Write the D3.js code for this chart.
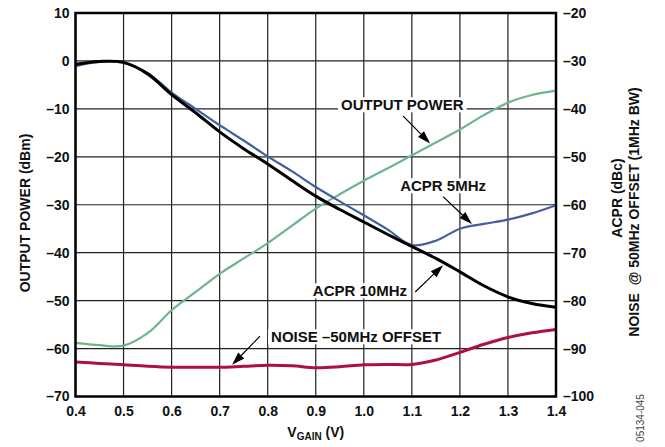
<!DOCTYPE html>
<html>
<head>
<meta charset="utf-8">
<script src="https://cdn.jsdelivr.net/npm/d3@7"></script>
<style>
  body { margin: 0; background: #fff; }
  svg { display: block; font-family: "Liberation Sans", Arial, sans-serif; }
</style>
</head>
<body>
<svg width="665" height="447"></svg>
<script>
// V_GAIN sample points (V)
var vGain = [0.40, 0.45, 0.50, 0.55, 0.60, 0.65, 0.70, 0.75, 0.80, 0.85, 0.90,
             0.95, 1.00, 1.05, 1.10, 1.15, 1.20, 1.25, 1.30, 1.35, 1.40];

// left axis, dBm
var outputPower = [-58.8, -59.3, -59.4, -56.8, -52.0, -48.2, -44.4, -41.2, -38.0, -34.4, -30.8,
                   -27.8, -25.0, -22.4, -19.7, -17.0, -14.3, -11.3, -8.7, -7.1, -6.2];

// right axis, dBc
var acpr5 = [-31.1, -30.2, -30.4, -32.5, -36.6, -40.0, -43.4, -46.6, -49.9, -53.0, -56.3,
             -59.3, -62.2, -65.2, -68.4, -67.5, -65.0, -64.0, -63.1, -61.8, -60.1];
var acpr10 = [-30.7, -30.1, -30.3, -32.7, -37.0, -40.8, -44.8, -48.3, -51.5, -54.9, -58.2,
              -61.0, -63.6, -66.2, -68.7, -71.2, -74.0, -76.9, -79.2, -80.6, -81.4];
var noise = [-92.8, -93.1, -93.4, -93.7, -93.9, -93.9, -93.9, -93.7, -93.5, -93.6, -94.0,
             -93.8, -93.4, -93.3, -93.3, -92.4, -90.8, -89.1, -87.7, -86.7, -86.0];

var xTicks = [0.4, 0.5, 0.6, 0.7, 0.8, 0.9, 1.0, 1.1, 1.2, 1.3, 1.4];
var leftTicks = [10, 0, -10, -20, -30, -40, -50, -60, -70];
var rightTicks = [-20, -30, -40, -50, -60, -70, -80, -90, -100];

// callouts in data units (V, dBm on left scale)
var callouts = [
    { text: "OUTPUT POWER", tx: 1.080, ty: -9.2, x0: 1.082, y0: -11.5, x1: 1.138, y1: -17.2 },
    { text: "ACPR 5MHz", tx: 1.165, ty: -26.1, x0: 1.165, y0: -28.3, x1: 1.225, y1: -34.0 },
    { text: "ACPR 10MHz", tx: 0.992, ty: -48.0, x0: 1.107, y0: -48.2, x1: 1.165, y1: -42.6 },
    { text: "NOISE \u201350MHz OFFSET", tx: 0.984, ty: -57.6, x0: 0.784, y0: -57.4, x1: 0.726, y1: -63.4 }
];

var svg = d3.select("svg");
var margin = { top: 13, left: 75.5 },
    width = 480.5,
    height = 383.5;

var g = svg.append("g")
    .attr("transform", `translate(${margin.left}, ${margin.top})`);

var x = d3.scaleLinear().domain([0.4, 1.4]).range([0, width]);
var yL = d3.scaleLinear().domain([-70, 10]).range([height, 0]);
var yR = d3.scaleLinear().domain([-100, -20]).range([height, 0]);

var dash = d => d < 0 ? "\u2013" + (-d) : "" + d;

// grid
g.append("g")
    .selectAll("line.v")
    .data(xTicks)
    .enter().append("line")
        .attr("x1", d => x(d)).attr("x2", d => x(d))
        .attr("y1", 0).attr("y2", height)
        .attr("stroke", "#222").attr("stroke-width", 1.2);

g.append("g")
    .selectAll("line.h")
    .data(leftTicks)
    .enter().append("line")
        .attr("x1", 0).attr("x2", width)
        .attr("y1", d => yL(d)).attr("y2", d => yL(d))
        .attr("stroke", "#222").attr("stroke-width", 1.2);

// axes labels
var xAxis = d3.axisBottom(x).tickValues(xTicks).tickSize(0).tickPadding(10).tickFormat(d3.format(".1f"));
var yAxisL = d3.axisLeft(yL).tickValues(leftTicks).tickSize(0).tickPadding(6).tickFormat(dash);
var yAxisR = d3.axisRight(yR).tickValues(rightTicks).tickSize(0).tickPadding(7).tickFormat(dash);

[[xAxis, `translate(0, ${height})`], [yAxisL, null], [yAxisR, `translate(${width}, 0)`]].forEach(a => {
    var ax = g.append("g").call(a[0]);
    if (a[1]) ax.attr("transform", a[1]);
    ax.select(".domain").remove();
    ax.selectAll("text")
        .attr("font-family", "'Liberation Sans', Arial, sans-serif")
        .attr("font-size", 14)
        .attr("font-weight", "bold")
        .attr("fill", "#111");
});

// curves
var smooth = d3.curveCatmullRom.alpha(0.5);
var lineL = d3.line().x((d, i) => x(vGain[i])).y(d => yL(d)).curve(smooth);
var lineR = d3.line().x((d, i) => x(vGain[i])).y(d => yR(d)).curve(smooth);

var series = [
    { data: outputPower, fn: lineL, color: "#6db58d", w: 2.2 },
    { data: acpr5, fn: lineR, color: "#43609e", w: 2.2 },
    { data: acpr10, fn: lineR, color: "#000", w: 3 },
    { data: noise, fn: lineR, color: "#ad1044", w: 3 }
];

g.append("g")
    .selectAll("path")
    .data(series)
    .enter().append("path")
        .attr("d", d => d.fn(d.data))
        .attr("fill", "none")
        .attr("stroke", d => d.color)
        .attr("stroke-width", d => d.w)
        .attr("stroke-linejoin", "round");

// plot frame
g.append("rect")
    .attr("width", width).attr("height", height)
    .attr("fill", "none").attr("stroke", "#000").attr("stroke-width", 2.5);

// callouts
var notes = g.append("g")
    .attr("font-size", 15)
    .attr("font-weight", "bold");

callouts.forEach(c => {
    var t = notes.append("text")
        .attr("x", x(c.tx)).attr("y", yL(c.ty))
        .attr("dy", "0.35em")
        .attr("text-anchor", "middle")
        .attr("fill", "#111")
        .text(c.text);
    var bb = t.node().getBBox();
    notes.insert("rect", "text")
        .attr("x", bb.x - 3).attr("y", bb.y + 1)
        .attr("width", bb.width + 6).attr("height", bb.height - 2)
        .attr("fill", "#fff");

    var ax0 = x(c.x0), ay0 = yL(c.y0), ax1 = x(c.x1), ay1 = yL(c.y1);
    var ang = Math.atan2(ay1 - ay0, ax1 - ax0);
    var len = 13, hw = 4.2;
    var bx = ax1 - len * Math.cos(ang), by = ay1 - len * Math.sin(ang);
    notes.append("line")
        .attr("x1", ax0).attr("y1", ay0).attr("x2", bx).attr("y2", by)
        .attr("stroke", "#000").attr("stroke-width", 1.2);
    notes.append("path")
        .attr("d", `M${ax1},${ay1}L${bx - hw * Math.sin(ang)},${by + hw * Math.cos(ang)}L${bx + hw * Math.sin(ang)},${by - hw * Math.cos(ang)}Z`)
        .attr("fill", "#000");
});

// axis titles
svg.append("text")
    .attr("transform", "translate(25, 213) rotate(-90)")
    .attr("text-anchor", "middle").attr("dominant-baseline", "central")
    .attr("font-size", 14).attr("font-weight", "bold").attr("fill", "#111")
    .text("OUTPUT POWER (dBm)");

svg.append("text")
    .attr("transform", "translate(617, 198) rotate(-90)")
    .attr("text-anchor", "middle").attr("dominant-baseline", "central")
    .attr("font-size", 14).attr("font-weight", "bold").attr("fill", "#111")
    .text("ACPR (dBc)");

svg.append("text")
    .attr("transform", "translate(634, 212) rotate(-90)")
    .attr("text-anchor", "middle").attr("dominant-baseline", "central")
    .attr("font-size", 14).attr("font-weight", "bold").attr("fill", "#111")
    .attr("xml:space", "preserve")
    .text("NOISE  @ 50MHz OFFSET (1MHz BW)");

var xt = svg.append("text")
    .attr("x", margin.left + width / 2).attr("y", 437)
    .attr("text-anchor", "middle")
    .attr("font-size", 14).attr("font-weight", "bold").attr("fill", "#111");
xt.append("tspan").text("V");
xt.append("tspan").attr("font-size", 10).attr("dy", 3).text("GAIN");
xt.append("tspan").attr("dy", -3).text(" (V)");

svg.append("text")
    .attr("transform", "translate(640, 418) rotate(-90)")
    .attr("text-anchor", "middle").attr("dominant-baseline", "central")
    .attr("font-size", 10).attr("fill", "#444")
    .text("05134-045");
</script>
</body>
</html>
